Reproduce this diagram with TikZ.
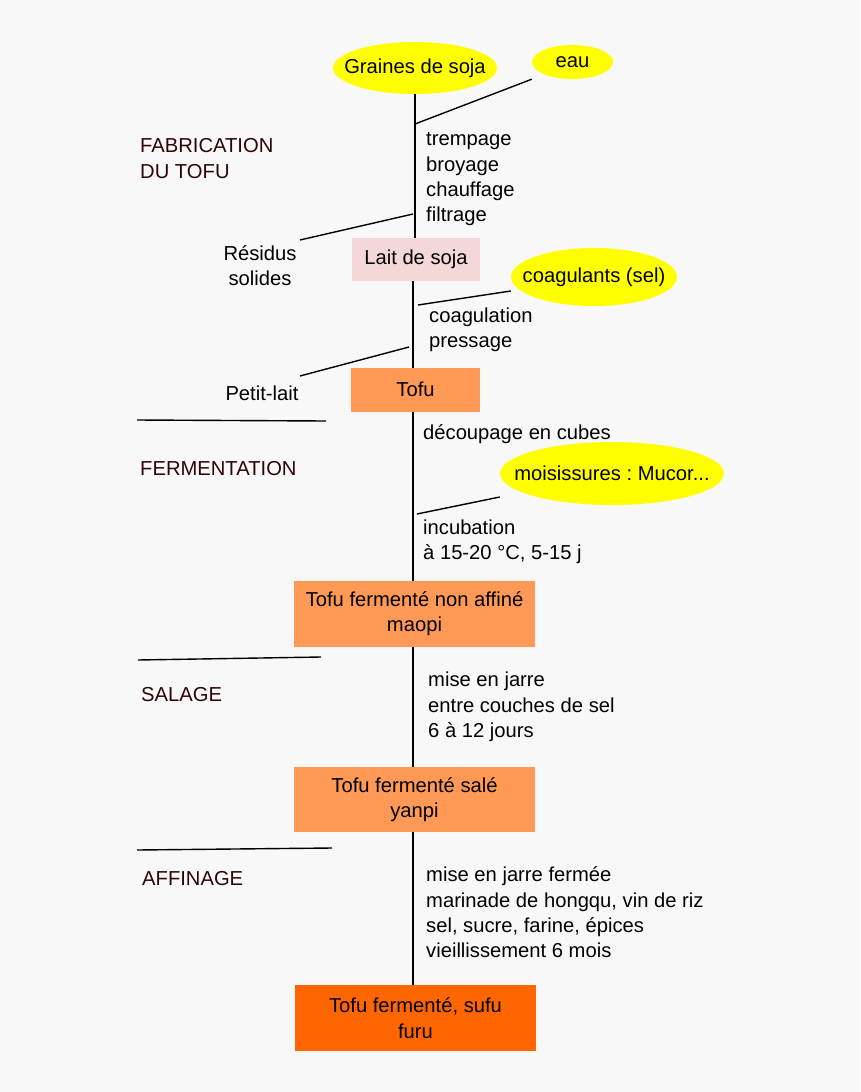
\documentclass[tikz,border=0pt]{standalone}
\usepackage{fontspec}
\setmainfont{Liberation Sans}
\usetikzlibrary{shapes.geometric}
\definecolor{fond}{HTML}{F8F8F8}
\definecolor{jaune}{HTML}{FFFF00}
\definecolor{rose}{HTML}{F4D7D7}
\definecolor{orangeclair}{HTML}{FF9955}
\definecolor{orangefonce}{HTML}{FF6600}
\definecolor{brun}{HTML}{2E0505}
\newcommand{\centre}[2][2pt]{\makebox[0pt]{\raisebox{-#1}{#2}}}
\begin{document}
\begin{tikzpicture}
		[	x=1pt,y=-1pt,
		txt/.style={font=\fontsize{20.2}{25.3}\selectfont,inner sep=0pt,align=left,anchor=west,yshift=-2.5pt},
		titre/.style={txt,text=brun,yshift=1.5pt},
		ingr/.style={ellipse,fill=jaune,inner sep=0pt,font=\fontsize{20.2}{25.3}\selectfont},
		boite/.style={rectangle,fill=orangeclair,inner sep=0pt,align=center,font=\fontsize{20.2}{25.3}\selectfont},
		trait/.style={draw=black,line width=1.4pt}
		]
		\fill[fond] (0,0) rectangle (860,1092);
		\useasboundingbox (0,0) rectangle (860,1092);
		% produits
		\node[ingr,minimum width=164pt,minimum height=52pt] (graines) at (415,68){\centre{Graines de soja}};
		\node[ingr,minimum width=81pt,minimum height=34pt] (eau) at (572.5,62){\centre[3pt]{eau}};
		\node[boite,fill=rose,minimum width=128pt,minimum height=43pt] (lait) at (416,259.5){\raisebox{-2.5pt}{Lait de soja}};
		\node[ingr,minimum width=166pt,minimum height=58pt] (coag) at (594,277){\centre{coagulants (sel)}};
		\node[boite,minimum width=129pt,minimum height=44pt] (tofu) at (415.5,390){\raisebox{2pt}{Tofu}};
		\node[ingr,minimum width=224pt,minimum height=63pt] (moisi) at (612,473.5){\centre[-1pt]{moisissures :\ Mucor...}};
		\node[boite,minimum width=241pt,minimum height=66pt] (maopi) at (414.5,614){Tofu ferment\'e non affin\'e\\maopi};
		\node[boite,minimum width=241pt,minimum height=65pt] (yanpi) at (414.5,799.5){Tofu ferment\'e sal\'e\\yanpi};
		\node[boite,fill=orangefonce,minimum width=241pt,minimum height=66pt] (sufu) at (415.5,1018){Tofu ferment\'e, sufu\\furu};
		% etapes
		\node[txt] (etape1) at (426,177){trempage\\broyage\\chauffage\\filtrage};
		\node[txt] (etape2) at (429,327){coagulation\\pressage};
		\node[txt] (etape3) at (423,432){d\'ecoupage en cubes};
		\node[txt] (etape4) at (423,539){incubation\\\`a 15-20 \textdegree C, 5-15 j};
		\node[txt] (etape5) at (428,704.5){mise en jarre\\entre couches de sel\\6 \`a 12 jours};
		\node[txt] (etape6) at (426,910){mise en jarre ferm\'ee\\marinade de hongqu, vin de riz\\sel, sucre, farine, \'epices\\vieillissement 6 mois};
		% sous-produits
		\node[txt,align=center,anchor=center] (residus) at (260,263){R\'esidus\\solides};
		\node[txt,anchor=center] (petitlait) at (262,391){Petit-lait};
		% phases
		\node[titre] (fab) at (140,157.5){FABRICATION\\DU TOFU};
		\node[titre] (ferm) at (140,468){FERMENTATION};
		\node[titre] (sal) at (141,694){SALAGE};
		\node[titre] (aff) at (142,878){AFFINAGE};
		% points sur la ligne
		\coordinate (p1) at (415,124);
		\coordinate (p2) at (413,214);
		\coordinate (p3) at (418,305);
		\coordinate (p4) at (409,347);
		\coordinate (p5) at (417,514);
		\coordinate (r1) at (300,240);
		\coordinate (r2) at (300,376);
		\coordinate (s1a) at (137,420); \coordinate (s1b) at (326,421);
		\coordinate (s2a) at (138,660); \coordinate (s2b) at (321,657);
		\coordinate (s3a) at (137,850); \coordinate (s3b) at (332,848);
		% ligne principale
		\draw[trait] (graines.south -| p1) -- (lait.north -| p1);
		\draw[trait] (lait.south -| p2) -- (tofu.north -| p2);
		\draw[trait] (tofu.south -| p2) -- (maopi.north -| p2);
		\draw[trait] (maopi.south -| p2) -- (yanpi.north -| p2);
		\draw[trait] (yanpi.south -| p2) -- (sufu.north -| p2);
		% apports et sorties
		\draw[trait] (eau.west |- eau.south) -- (p1);
		\draw[trait] (r1) -- (p2);
		\draw[trait] (coag.west) ++(0,14) -- (p3);
		\draw[trait] (r2) -- (p4);
		\draw[trait] (moisi.west) ++(0,23.5) -- (p5);
		% separations
		\draw[trait] (s1a) -- (s1b);
		\draw[trait] (s2a) -- (s2b);
		\draw[trait] (s3a) -- (s3b);
\end{tikzpicture}
\end{document}
